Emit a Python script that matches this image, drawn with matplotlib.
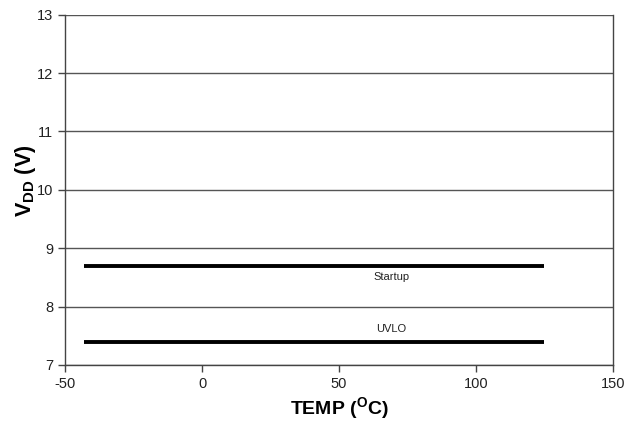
import matplotlib
matplotlib.use("Agg")
import matplotlib.pyplot as plt

plt.rcParams['font.family'] = ['Liberation Sans', 'DejaVu Sans']
plt.rcParams['mathtext.fontset'] = 'custom'
plt.rcParams['mathtext.rm'] = 'Liberation Sans'
plt.rcParams['mathtext.bf'] = 'Liberation Sans:bold'
plt.rcParams['mathtext.it'] = 'Liberation Sans:italic'
plt.rcParams['axes.unicode_minus'] = False

temp = [-43, 125]
startup = [8.7, 8.7]
uvlo = [7.4, 7.4]
series_labels = ["Startup", "UVLO"]
label_pos = [(69, 8.5), (69, 7.62)]
xticks = [-50, 0, 50, 100, 150]
yticks = [7, 8, 9, 10, 11, 12, 13]

fig = plt.figure(figsize=(6.38, 4.28), dpi=100)
ax = fig.add_axes([0.1019, 0.1472, 0.8589, 0.8185])

ax.set_xlim(-50, 150)
ax.set_ylim(7, 13)
ax.set_xticks(xticks)
ax.set_yticks(yticks)
ax.yaxis.grid(True, color='#555555', linewidth=1.0)
ax.set_axisbelow(True)

ax.plot(temp, startup, color='black', linewidth=2.8, solid_capstyle='butt')
ax.plot(temp, uvlo, color='black', linewidth=2.8, solid_capstyle='butt')
for lab, (lx, ly) in zip(series_labels, label_pos):
    ax.text(lx, ly, lab, ha='center', va='center', fontsize=8, color='#222222')

for s in ['left', 'bottom', 'right']:
    ax.spines[s].set_color('#444444')
    ax.spines[s].set_linewidth(1.0)
ax.spines['top'].set_visible(False)

ax.tick_params(axis='both', direction='out', length=5, width=1, color='#444444',
               labelsize=10.5, labelcolor='#222222')

ax.set_xlabel(r'TEMP ($\mathbf{^{O}}$C)', fontsize=14, fontweight='bold', labelpad=3)
ax.set_ylabel(r'$\mathbf{V_{DD}}$ (V)', fontsize=15.5, fontweight='bold')
ax.yaxis.set_label_coords(-0.05, 0.525)

fig.savefig('out.png', dpi=100)
